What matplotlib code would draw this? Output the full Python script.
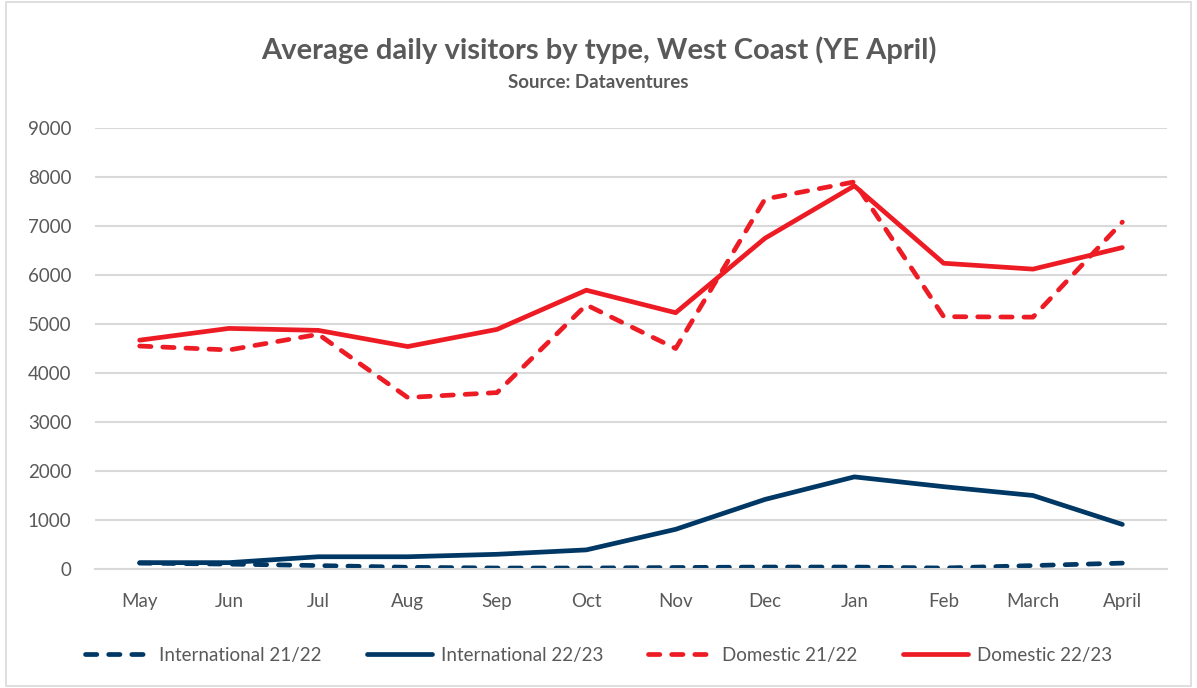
import matplotlib.pyplot as plt
from matplotlib.patches import Rectangle

months = ["May", "Jun", "Jul", "Aug", "Sep", "Oct", "Nov", "Dec", "Jan", "Feb", "March", "April"]
intl_2122 = [120, 100, 70, 35, 20, 20, 30, 40, 40, 20, 70, 120]
intl_2223 = [130, 130, 250, 250, 300, 390, 810, 1420, 1880, 1680, 1500, 910]
dom_2122 = [4550, 4470, 4790, 3500, 3600, 5390, 4500, 7550, 7900, 5150, 5140, 7080]
dom_2223 = [4670, 4910, 4870, 4540, 4890, 5690, 5230, 6750, 7820, 6240, 6120, 6560]

navy = "#003865"
red = "#ed1c24"
grey = "#595959"

plt.rcParams["font.family"] = ["Lato", "DejaVu Sans"]

fig = plt.figure(figsize=(11.97, 6.88), dpi=100)
ax = fig.add_axes([95 / 1197, 1 - 569 / 688, (1167 - 95) / 1197, (569 - 128) / 688])

x = list(range(len(months)))
dash = (0, (2.4, 2.5))
lw = 3.4
ax.plot(x, intl_2122, color=navy, lw=lw, ls=dash, dash_capstyle="round", label="International 21/22")
ax.plot(x, intl_2223, color=navy, lw=lw, solid_capstyle="round", label="International 22/23")
ax.plot(x, dom_2122, color=red, lw=lw, ls=dash, dash_capstyle="round", label="Domestic 21/22")
ax.plot(x, dom_2223, color=red, lw=lw, solid_capstyle="round", label="Domestic 22/23")

ax.set_xlim(-0.5, len(months) - 0.5)
ax.set_ylim(0, 9000)
ax.set_yticks(range(0, 9001, 1000))
ax.set_xticks(x)
ax.set_xticklabels(months)
ax.yaxis.grid(True, color="#d9d9d9", lw=1.5)
ax.set_axisbelow(True)
for s in ["top", "right", "left"]:
    ax.spines[s].set_visible(False)
ax.spines["bottom"].set_color("#d9d9d9")
ax.spines["bottom"].set_linewidth(1.5)
ax.tick_params(axis="x", length=0, labelsize=13.5, colors=grey, pad=17)
ax.tick_params(axis="y", length=0, labelsize=13.5, colors=grey, pad=17)

fig.text(0.5, 1 - 50 / 688, "Average daily visitors by type, West Coast (YE April)",
         ha="center", va="center", fontsize=21, fontweight="bold", color=grey)
fig.text(0.5, 1 - 83 / 688, "Source: Dataventures",
         ha="center", va="center", fontsize=13.5, fontweight="bold", color=grey)

leg = fig.legend(loc="center", bbox_to_anchor=(0.5, 1 - 655 / 688), ncol=4, frameon=False,
                 fontsize=13.5, handlelength=3.5, columnspacing=2.4, handletextpad=0.45)
for t in leg.get_texts():
    t.set_color(grey)

fig.patches.append(Rectangle((6 / 1197, 2 / 688), 1 - 12 / 1197, 1 - 4 / 688, transform=fig.transFigure,
                             fill=False, edgecolor="#d9d9d9", lw=1.2))

fig.savefig("out.png", dpi=100)
